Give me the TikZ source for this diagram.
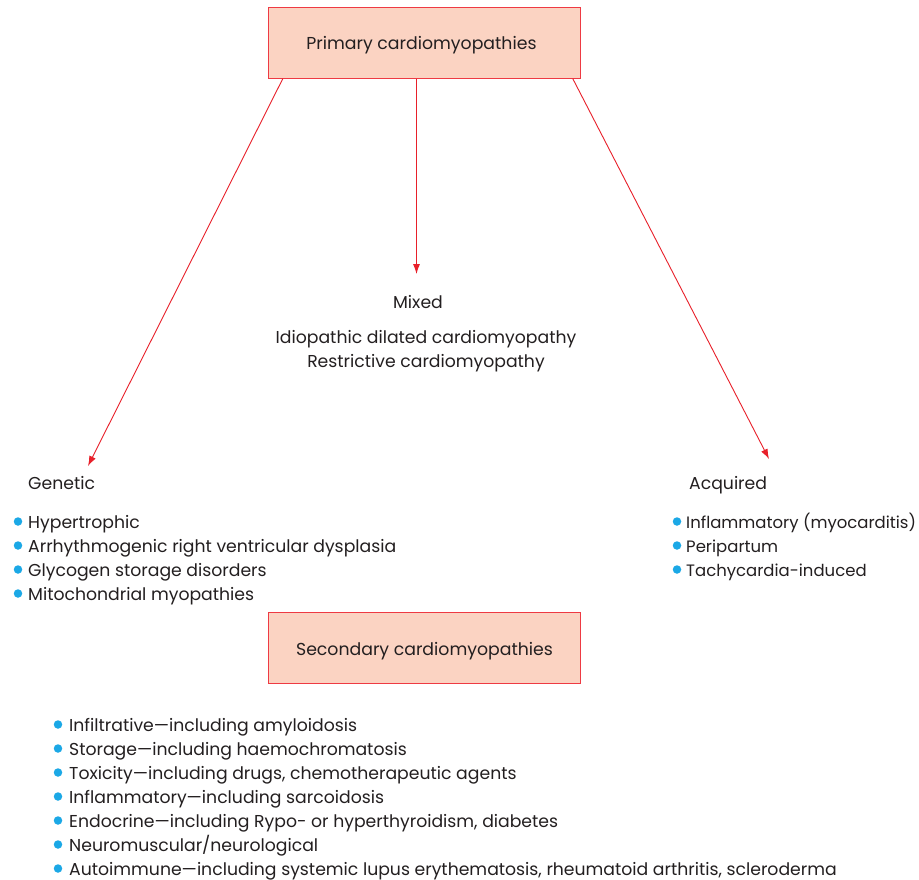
\documentclass[tikz,border=0pt]{standalone}
\usepackage{fontspec}
\setmainfont{Poppins}
\usetikzlibrary{arrows.meta}
\definecolor{txtc}{HTML}{231F20}
\definecolor{boxfill}{HTML}{FBD3C2}
\definecolor{boxline}{HTML}{EE3A43}
\definecolor{arrc}{HTML}{E8202A}
\definecolor{bulc}{HTML}{1BA8E6}
\tikzset{
  boxnode/.style={draw=boxline, line width=1pt, fill=boxfill, minimum width=312pt, minimum height=71pt, inner sep=0pt},
  boxtxt/.style={text=txtc, font=\fontsize{17.3}{20}\selectfont, inner sep=0pt},
  txt/.style={text=txtc, font=\fontsize{17.25}{20}\selectfont, inner sep=0pt},
  txtsm/.style={text=txtc, font=\fontsize{16.5}{20}\selectfont, inner sep=0pt},
  bul/.style={circle, fill=bulc, inner sep=0pt, minimum size=8.5pt},
  arr/.style={draw=arrc, line width=0.9pt, -{Latex[length=10pt,width=7pt]}}
}
\begin{document}
\begin{tikzpicture}[x=1pt,y=-1pt]
\useasboundingbox[fill=white] (0,0) rectangle (919,880);
% boxes
\node[boxnode] (prim) at (424.3,42.7) {};
\node[boxtxt, anchor=base] (primt) at (421.5,50) {Primary cardiomyopathies};
\node[boxnode] (sec) at (424.5,647.5) {};
\node[boxtxt, anchor=base] (sect) at (424.5,655) {Secondary cardiomyopathies};
% mixed
\node[txt, anchor=base] (mixed) at (418,308) {Mixed};
\node[txt, anchor=base] (mix1) at (426,343) {Idiopathic dilated cardiomyopathy};
\node[txt, anchor=base] (mix2) at (426,367) {Restrictive cardiomyopathy};
% genetic
\node[txt, anchor=base west] (gen) at (28,489) {Genetic};
\foreach \t [count=\i] in {Hypertrophic, Arrhythmogenic right ventricular dysplasia, Glycogen storage disorders, Mitochondrial myopathies}{
  \node[bul] (gb\i) at (18,521.5+24*\i-24) {};
  \node[txt, anchor=base west] (gt\i) at (28,528+24*\i-24) {\t};
}
% acquired
\node[txt, anchor=base west] (acq) at (689,489) {Acquired};
\foreach \t [count=\i] in {Inflammatory (myocarditis), Peripartum, Tachycardia-induced}{
  \node[bul] (ab\i) at (677,521.5+24*\i-24) {};
  \node[txtsm, anchor=base west] (at\i) at (686,528+24*\i-24) {\t};
}
% secondary list
\foreach \t [count=\i] in {Infiltrative—including amyloidosis, Storage—including haemochromatosis, {Toxicity—including drugs, chemotherapeutic agents}, Inflammatory—including sarcoidosis, {Endocrine—including Rypo- or hyperthyroidism, diabetes}, Neuromuscular/neurological, {Autoimmune—including systemic lupus erythematosis, rheumatoid arthritis, scleroderma}}{
  \node[bul] (sb\i) at (58,724.5+24*\i-24) {};
  \node[txt, anchor=base west] (st\i) at (69,731+24*\i-24) {\t};
}
% arrows
\coordinate (gtip) at (88,466);
\coordinate (mtip) at (416.5,274);
\coordinate (atip) at (769,459);
\draw[arr] ([xshift=15pt]prim.south west) -- (gtip);
\draw[arr] (prim.south -| mtip) -- (mtip);
\draw[arr] ([xshift=-8pt]prim.south east) -- (atip);
\end{tikzpicture}
\end{document}
